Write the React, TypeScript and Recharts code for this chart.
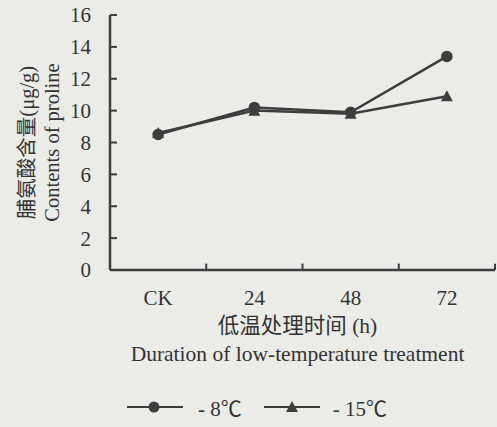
import React from "react";
import {
  LineChart,
  Line,
  XAxis,
  YAxis,
  Legend,
  ReferenceLine,
} from "recharts";

const durations = ["CK", "24", "48", "72"];
const minus8 = [8.5, 10.2, 9.9, 13.4];
const minus15 = [8.6, 10.0, 9.8, 10.9];
const yTicks = [0, 2, 4, 6, 8, 10, 12, 14, 16];
const seriesOrder = ["m8", "m15"];

const INK = "#333333";
const LINE = "#3d3d3d";
const FONT = "'Liberation Serif', 'Noto Sans CJK SC', serif";

const data = durations.map((d, i) => ({
  time: d,
  m8: minus8[i],
  m15: minus15[i],
}));

const TriangleDot = (props: any) => {
  const { cx, cy, index } = props;
  if (cx == null || cy == null) return <g key={index} />;
  return (
    <polygon
      key={`tri-${index}`}
      points={`${cx},${cy - 6} ${cx - 6},${cy + 5} ${cx + 6},${cy + 5}`}
      fill={LINE}
    />
  );
};

const YTitle = (props: any) => {
  const { viewBox } = props;
  const cy = viewBox.y + viewBox.height / 2;
  return (
    <g fill={INK} fontFamily={FONT} fontSize={20.5}>
      <text
        x={27}
        y={cy}
        transform={`rotate(-90 27 ${cy})`}
        textAnchor="middle"
        dominantBaseline="central"
      >
        脯氨酸含量(μg/g)
      </text>
      <text
        x={52}
        y={cy}
        transform={`rotate(-90 52 ${cy})`}
        textAnchor="middle"
        dominantBaseline="central"
      >
        Contents of proline
      </text>
    </g>
  );
};

const XTitle = (props: any) => {
  const { viewBox } = props;
  const cx = viewBox.x + viewBox.width / 2 - 5;
  return (
    <g fill={INK} fontFamily={FONT} fontSize={21.5}>
      <text x={cx} y={333} textAnchor="middle">
        低温处理时间 (h)
      </text>
      <text x={cx} y={361} textAnchor="middle">
        Duration of low-temperature treatment
      </text>
    </g>
  );
};

const LegendBox = (props: any) => {
  const items = [...(props.payload || [])].sort(
    (a: any, b: any) =>
      seriesOrder.indexOf(a.dataKey) - seriesOrder.indexOf(b.dataKey)
  );
  return (
    <div
      style={{
        display: "flex",
        alignItems: "center",
        height: 30,
        paddingLeft: 127,
        fontFamily: FONT,
        fontSize: 21,
        color: INK,
      }}
    >
      {items.map((it: any) => (
        <div
          key={it.dataKey}
          style={{ display: "flex", alignItems: "center", marginRight: 22 }}
        >
          <svg
            width={56}
            height={14}
            style={{ marginRight: it.dataKey === "m8" ? 15 : 13 }}
          >
            <line x1={0} y1={7} x2={56} y2={7} stroke={LINE} strokeWidth={2} />
            {it.dataKey === "m8" ? (
              <circle cx={27} cy={7} r={5.5} fill={LINE} />
            ) : (
              <polygon points="28,1 22,12 34,12" fill={LINE} />
            )}
          </svg>
          <span>{it.value}</span>
        </div>
      ))}
    </div>
  );
};

export default function App() {
  return (
    <div
      style={{
        position: "absolute",
        left: 0,
        top: 0,
        width: 497,
        height: 427,
        background: "#ebebe8",
      }}
    >
      <LineChart
        width={497}
        height={427}
        data={data}
        margin={{ top: 15, right: 2, left: 0, bottom: 5 }}
      >
        <XAxis
          dataKey="time"
          scale="band"
          height={122}
          tickLine={false}
          axisLine={{ stroke: LINE, strokeWidth: 2.5 }}
          tickMargin={14}
          tick={{ fill: INK, fontSize: 21, fontFamily: FONT }}
          label={<XTitle />}
        />
        <YAxis
          width={110}
          domain={[0, 16]}
          ticks={yTicks}
          tickSize={-7}
          tickMargin={26}
          axisLine={{ stroke: LINE, strokeWidth: 2.5 }}
          tickLine={{ stroke: LINE, strokeWidth: 2 }}
          tick={{ fill: INK, fontSize: 21, fontFamily: FONT }}
          label={<YTitle />}
        />
        {durations.map((d) => (
          <ReferenceLine
            key={d}
            segment={[
              { x: d, y: 0 },
              { x: d, y: 0.4 },
            ]}
            position="end"
            stroke={LINE}
            strokeWidth={2}
          />
        ))}
        <Line
          name="- 8℃"
          dataKey="m8"
          stroke={LINE}
          strokeWidth={2.5}
          dot={{ r: 4.5, fill: LINE, stroke: LINE }}
          isAnimationActive={false}
        />
        <Line
          name="- 15℃"
          dataKey="m15"
          stroke={LINE}
          strokeWidth={2.5}
          dot={<TriangleDot />}
          isAnimationActive={false}
        />
        <Legend verticalAlign="bottom" content={<LegendBox />} />
      </LineChart>
    </div>
  );
}
